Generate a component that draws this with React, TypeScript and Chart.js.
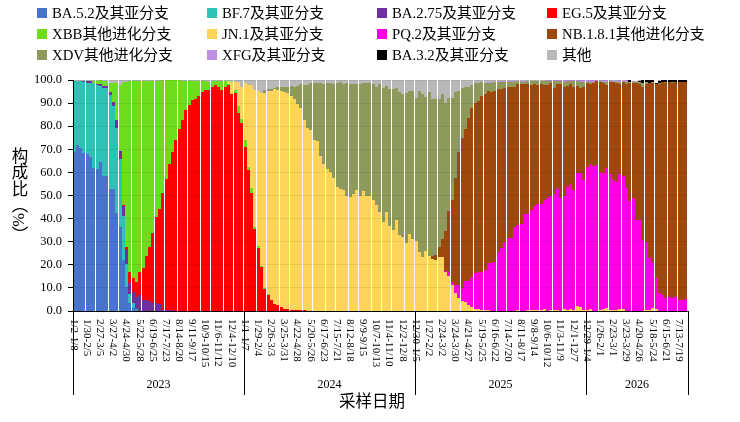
import React, { useEffect, useRef } from 'react';
import { Chart, Plugin, registerables } from 'chart.js';

Chart.register(...registerables);

const FONT = '"Liberation Serif", "Noto Sans CJK SC", serif';
const WEEK_COUNT = 187;

// one label every four weeks, first week of 2023 onwards
const tickLabels = [
  '1/2-1/8', '1/30-2/5', '2/27-3/5', '3/27-4/2', '4/24-4/30', '5/22-5/28', '6/19-6/25', '7/17-7/23', '8/14-8/20', '9/11-9/17', '10/9-10/15', '11/6-11/12', '12/4-12/10',
  '1/1-1/7', '1/29-2/4', '2/26-3/3', '3/25-3/31', '4/22-4/28', '5/20-5/26', '6/17-6/23', '7/15-7/21', '8/12-8/18', '9/9-9/15', '10/7-10/13', '11/4-11/10', '12/2-12/8',
  '12/30-1/5', '1/27-2/2', '2/24-3/2', '3/24-3/30', '4/21-4/27', '5/19-5/25', '6/16-6/22', '7/14-7/20', '8/11-8/17', '9/8-9/14', '10/6-10/12', '11/3-11/9', '12/1-12/7',
  '12/29-1/4', '1/26-2/1', '2/23-3/1', '3/23-3/29', '4/20-4/26', '5/18-5/24', '6/15-6/21', '7/13-7/19'
];
const years = ['2023', '2024', '2025', '2026'];
const yearStarts = [0, 52, 104, 156];
const yTicks = [0, 10, 20, 30, 40, 50, 60, 70, 80, 90, 100];

const ba52 = [68.7, 71.9, 70.4, 68.3, 68, 66.7, 61.9, 61.3, 64.5, 58.4, 58.4, 52.8, 52.8, 42.4, 36.4, 22, 10.5, 3.5, 1.2, 0.5, 0.1];
const bf7 = [30.7, 27.6, 29, 30.7, 30.8, 32.1, 36.6, 36.7, 33, 38.1, 38.1, 40.7, 36.1, 36.9, 29.6, 19.3, 9.8, 3.7, 2.3, 0.5, 0.1, 0.1];
const ba275 = [0, 0, 0, 0.5, 0.6, 0.6, 0.2, 0.4, 0.6, 0.8, 0.7, 1.2, 1.6, 3.2, 3.3, 4.2, 6.1, 4.8, 4.8, 5.2, 6.7, 4.7, 4.8, 4.3, 3.6, 3.6, 3.2, 0.6, 0.6, 0.4, 0.3, 0.2, 0.1, 0.1];
const eg5 = [
  0, 0, 0, 0, 0, 0, 0, 0, 0, 0, 0, 0, 0, 0, 0,
  0.4, 1.4, 4.7, 5.8, 6.2, 9.9, 13.8, 19, 23.5, 30.3, 37.1, 41, 50.4, 56.6, 63.2, 68.4, 73.8, 78.7, 82.6, 87, 89.2, 91.3, 91.8, 93, 94.7, 95.7, 95.7, 97, 97.8, 97, 95.7, 97, 97.8, 94, 94.5, 85.6, 81.5, 71.1, 61, 51.2, 35.5, 27.3, 19.2, 9.5, 6.9, 4.8, 3, 2.6, 1.8, 1, 1, 0.5, 0.4, 0.3, 0.3, 0.6, 0, 0.2
];
const xbb = [
  0, 0, 0, 0, 0, 0,
  0.8, 1.2, 1.7, 2.4, 2.2, 3.8, 8, 16, 28.5, 53.1, 71.2, 82.8, 85.5, 87.2, 82.9, 81.1, 75.9, 71.9, 65.8, 59, 55.5, 48.9, 42.7, 36.3, 31.2, 25.9, 21, 17, 12.7, 10.5, 8.4, 7.9, 6.7, 5, 3.7, 3.3, 2.5, 1.9, 2.6, 3.8, 2.5, 0.4, 0, 1.3, 3.2, 1.6, 2.9, 1.4, 1.9, 0.9, 0.7, 0.3, 0.3, 0.5
];
const jn1 = [
  0, 0, 0, 0, 0, 0, 0, 0, 0, 0, 0, 0, 0, 0, 0, 0, 0, 0, 0, 0, 0, 0, 0, 0,
  0, 0, 0, 0, 0, 0, 0, 0, 0, 0, 0, 0, 0, 0, 0, 0, 0, 0, 0, 0, 0, 0, 0,
  1.2, 5, 3.2, 10.2, 13.9, 24.7, 35.4, 44.7, 59.3, 67.2, 74.9, 84.6, 88, 90.4, 93, 93.1, 93.4, 94, 93.4, 92.4, 91.5, 89.3,
  87.7, 82, 79.2, 78.3, 73.9, 73.6, 67, 63.5, 61.3, 60.2, 57.6, 53.7, 52.7, 52.3, 50, 49.3, 50.5, 52.3, 49.8, 51.8,
  49.8, 50, 47.9, 45.7, 42.8, 38.5, 42.8, 36.7, 35, 39.6, 32.7, 32.1, 29.4, 33.3, 31, 30.5, 25.5, 23.4, 25.8, 23.6,
  22.5, 22.1, 23.5, 23.5, 17, 15.2, 11.3, 7.6, 5.5, 4.3, 3.8, 2.6, 1.9, 0.7, 0.8, 0.4, 0.5, 0.3, 0.1, 0.1,
  0, 0, 0, 0, 0, 0.2, 0.3, 0, 0, 0.3, 0.3, 0.3, 0.3, 0.3, 0.9, 0.1, 0.4, 0.4, 0.3, 0.2, 0.7, 0.3, 0.7, 0.4,
  2.2, 1.7, 0.4, 0.4, 0.9, 0.1, 0.1, 0.3, 1, 1.3, 0.4, 0.3, 0.4, 0.8, 0.8, 0.1, 0, 0.1, 0, 0.1, 0.1, 0.3, 0.3, 1.3, 1, 0.2
];
const pq2 = [
  0, 0, 0, 0, 0, 0, 0, 0, 0, 0, 0, 0, 0, 0, 0, 0, 0, 0, 0, 0, 0, 0, 0, 0, 0, 0, 0, 0, 0, 0,
  0, 0, 0, 0, 0, 0, 0, 0, 0, 0, 0, 0, 0, 0, 0, 0, 0, 0, 0, 0, 0, 0, 0, 0, 0, 0, 0, 0, 0, 0,
  0, 0, 0, 0, 0, 0, 0, 0, 0, 0, 0, 0, 0, 0, 0, 0, 0, 0, 0, 0, 0, 0, 0, 0, 0, 0, 0, 0, 0, 0,
  0, 0, 0, 0, 0, 0, 0, 0, 0, 0, 0, 0, 0, 0, 0, 0, 0, 0, 0, 0, 0, 0, 0,
  0.4, 1.6, 1.1, 3.7, 5.8, 5.8, 9.3, 10.4, 13, 15.9, 16.2, 16.6, 17.2, 20.3, 20.8, 20.9, 25.7, 27.1, 30, 31.5, 31.5, 36.3, 36.9, 37.7, 41.8, 41.5, 43.4, 45.3, 45.9, 45.9, 47.1, 48.7, 49.5, 50.3, 52.5, 48.8, 49.2, 53.5, 54.1, 52, 57.7, 58.2, 56.3, 62.1, 62.7, 62.7, 63.1, 59.7, 58.6, 60.5, 58.9, 56.4, 55.6, 58.4, 57.6, 53, 47.5, 48.7, 39.3, 39.3, 30.6, 29.4, 22.5, 19.4, 13.1, 7.4, 6.9, 5.5, 6.2, 5.8, 6.2, 4.8, 4.8, 5.2
];
const nb181 = [
  0, 0, 0, 0, 0, 0, 0, 0, 0, 0, 0, 0, 0, 0, 0, 0, 0, 0, 0, 0, 0, 0, 0, 0, 0, 0, 0, 0, 0, 0,
  0, 0, 0, 0, 0, 0, 0, 0, 0, 0, 0, 0, 0, 0, 0, 0, 0, 0, 0, 0, 0, 0, 0, 0, 0, 0, 0, 0, 0, 0,
  0, 0, 0, 0, 0, 0, 0, 0, 0, 0, 0, 0, 0, 0, 0, 0, 0, 0, 0, 0, 0, 0, 0, 0, 0, 0, 0, 0, 0, 0,
  0, 0, 0, 0, 0, 0, 0, 0, 0, 0, 0, 0, 0, 0, 0, 0, 0, 0, 0,
  1.3, 2, 4.2, 7.7, 17.2, 26.5, 35.6, 46.1, 57.4, 64.6, 65.7, 70.4, 73.1, 73.3, 73.9, 76.1, 76.2, 74.6, 74.1, 74.2, 70.4, 69, 66.7, 65.5, 65.6, 60.6, 60.9, 60.6, 56.3, 56.3, 54.1, 52.5, 51.6, 51.9, 49.8, 49, 48.7, 45.7, 45.3, 49.4, 47.2, 43.5, 43.6, 44.7, 37.5, 36.8, 40.4, 36.1, 34.7, 35.8, 36.2, 39.1, 39.1, 36, 39.8, 42.3, 42.7, 39.1, 40.6, 45.2, 51.4, 49.9, 59.6, 58.9, 66.4, 68.4, 75.8, 78.2, 84, 90.8, 92.2, 93.3, 92.8, 92.9, 92.9, 94.3, 94.2, 93.8
];
const xdv = [
  0, 0, 0, 0, 0, 0, 0, 0, 0, 0, 0, 0, 0, 0, 0, 0, 0, 0, 0, 0, 0, 0, 0, 0, 0, 0, 0, 0, 0,
  0, 0, 0, 0, 0, 0, 0, 0, 0, 0, 0, 0, 0, 0, 0, 0, 0, 0, 0, 0, 0, 0, 0, 0, 0, 0, 0, 0, 0,
  1.3, 0.8, 0.8, 0.6, 1.4, 1.8, 2, 2.6, 4.3, 5.2, 7.8, 10.4, 15.2, 18.6, 20.3, 24.9, 25.2, 31.6, 34.9, 37.4, 38.5, 40.8, 45, 46.3, 46.1, 48.7, 48.8, 47.9, 46.1, 48.6, 47, 49, 48.7, 50.2, 51.1, 55.3, 58.2, 54.7, 59.2, 61.1, 56.8, 62, 61.7, 65.1, 61.9, 64.2, 61.5, 69.7, 70.4, 67, 71.1,
  68, 67.7, 64.1, 62.7, 55.3, 48.7, 44.4, 37.3, 26.5, 22, 18.2, 13.7, 9.8, 8.7, 7.9, 5.9, 4.8, 3.7, 3.9, 3.8, 2.9, 3.2, 2.5, 2.2, 2.2, 2.2, 1.3, 1, 1.2, 1.3, 1.6, 1.3, 1.6, 1.3, 1.6, 1.7, 0.9, 3, 1.3, 1, 2.2, 2.1, 1, 2.3, 2, 2.6, 2.2, 0.6, 1, 0.6, 0.2, 0.3, 0.6, 1.2, 0.3, 0.3, 0.6, 1, 0.3, 1, 0.3, 0.5, 0.2, 0.9, 1.8, 0.9, 0.2, 0.2, 0.3, 0.3, 0.1, 0.3, 0.2, 0.4, 0.1, 0, 0.1, 0
];
const xfg = [
  0, 0, 0, 0, 0, 0, 0, 0, 0, 0, 0, 0, 0, 0, 0, 0, 0, 0, 0, 0, 0, 0, 0, 0, 0, 0, 0, 0, 0, 0,
  0, 0, 0, 0, 0, 0, 0, 0, 0, 0, 0, 0, 0, 0, 0, 0, 0, 0, 0, 0, 0, 0, 0, 0, 0, 0, 0, 0, 0, 0,
  0, 0, 0, 0, 0, 0, 0, 0, 0, 0, 0, 0, 0, 0, 0, 0, 0, 0, 0, 0, 0, 0, 0, 0, 0, 0, 0, 0, 0, 0,
  0, 0, 0, 0, 0, 0, 0, 0, 0, 0, 0, 0, 0, 0, 0, 0, 0, 0, 0, 0, 0, 0, 0, 0, 0, 0, 0, 0, 0, 0,
  0, 0, 0, 0, 0,
  0.2, 0.1, 0.1, 0.1, 0.6, 0.4, 0.4, 0.5, 0.4, 0.4, 0.3, 0.4, 0.4, 0.3, 0.3, 0.3, 0.3, 0.3, 0.3, 0.3, 0.3, 0.4, 0.4, 0.4, 0.5, 0.4, 0.4, 0.4, 0.4, 0.5, 0.5, 0.6, 0.5, 0.6, 0.3, 0.4, 0.5, 0.8, 0.4, 0.4, 0.4, 0.5, 0.4, 0.5, 0.1, 0.2, 0.2
];
const ba32 = [
  0, 0, 0, 0, 0, 0, 0, 0, 0, 0, 0, 0, 0, 0, 0, 0, 0, 0, 0, 0, 0, 0, 0, 0, 0, 0, 0, 0, 0, 0,
  0, 0, 0, 0, 0, 0, 0, 0, 0, 0, 0, 0, 0, 0, 0, 0, 0, 0, 0, 0, 0, 0, 0, 0, 0, 0, 0, 0, 0, 0,
  0, 0, 0, 0, 0, 0, 0, 0, 0, 0, 0, 0, 0, 0, 0, 0, 0, 0, 0, 0, 0, 0, 0, 0, 0, 0, 0, 0, 0, 0,
  0, 0, 0, 0, 0, 0, 0, 0, 0, 0, 0, 0, 0, 0, 0, 0, 0, 0, 0, 0, 0, 0, 0, 0, 0, 0, 0, 0, 0, 0,
  0, 0, 0, 0, 0, 0, 0, 0, 0, 0, 0, 0, 0, 0, 0, 0, 0, 0, 0, 0, 0, 0, 0, 0, 0, 0, 0, 0, 0, 0,
  0, 0, 0, 0, 0, 0, 0, 0, 0, 0, 0, 0, 0, 0, 0, 0, 0, 0, 0,
  0.5, 0, 0, 0.5, 1, 0.9, 1, 0.7, 0.3, 1, 0.6, 0.8, 0.7, 0.8, 0.7, 0.9, 0.8, 1
];
const other = [
  0.6, 0.5, 0.6, 0.5, 0.6, 0.6, 0.5, 0.4, 0.2, 0.3, 0.6, 1.5, 1.5, 1.5, 2.2, 1, 1, 0.5, 0.4, 0.4, 0.3, 0.3, 0.3, 0.3, 0.3, 0.3, 0.3, 0.1, 0.1, 0.1, 0.1, 0.1, 0.2, 0.3, 0.3, 0.3, 0.3, 0.3, 0.3, 0.3, 0.6, 1, 0.5, 0.3, 0.4, 0.5, 0.5, 0.6, 1, 1, 1, 3,
  1.3, 2.2, 2.2, 4.3, 4.8, 5.6, 4.3, 3.9, 4, 3.4, 2.9, 3, 3, 3, 2.8, 2.9, 2.6, 1.7, 2.2, 2.2, 1.2, 1.2, 1.2, 1.4, 1.6, 1.3, 1.3, 1.6, 1.3, 1, 1.6, 1.3, 1.9, 1.6, 1.6, 1.6, 1.2, 1.2, 1.3, 1.9, 3.2, 1.9, 3.3, 2.5, 4.1, 3.9, 3.6, 5.3, 6.2, 5.5, 4.8, 4.8,
  8, 4.8, 6.2, 7.2, 5.3, 8.2, 8.2, 8.2, 6.1, 10.1, 8, 7.6, 5.3, 4.8, 3.3, 3, 2.9, 2.2, 1.4, 1.2, 1, 1, 1, 1, 1, 0.4, 0.3, 0.4, 0.3, 0.3, 0.3, 0.3, 0.3, 0.3, 0.3, 0.3, 0.3, 0.3, 0.3, 0.2, 0.2, 0.2, 0.2, 0.2, 0.2, 0.2, 0.2, 0.2, 0.2, 0.2, 0.2,
  0.2, 0.2, 0.1, 0.2, 0.2, 0.2, 0.2, 0.3, 0.3, 0.2, 0.3, 0.2, 0.2, 0.6, 0.6, 0.3, 0.1, 0.1, 0.2, 0.2, 1.2, 0.3, 0.2, 0.1, 0.1, 0.1, 0.1, 0.1, 0.1, 0, 0.1, 0
];

const seriesNames = ['BA.5.2及其亚分支', 'BF.7及其亚分支', 'BA.2.75及其亚分支', 'EG.5及其亚分支', 'XBB其他进化分支', 'JN.1及其亚分支', 'PQ.2及其亚分支', 'NB.1.8.1其他进化分支', 'XDV其他进化分支', 'XFG及其亚分支', 'BA.3.2及其亚分支', '其他'];
const seriesValues = [ba52, bf7, ba275, eg5, xbb, jn1, pq2, nb181, xdv, xfg, ba32, other];
const seriesColors = ['#4874CB', '#2EC2B6', '#7030A0', '#FF0000', '#6EDD1E', '#FFD45A', '#FF00E6', '#9E480E', '#8E9A5C', '#BF8FE4', '#000000', '#B8B8B8'];

const categories = Array.from({ length: WEEK_COUNT }, (_, i) => (i % 4 === 0 ? tickLabels[i / 4] ?? '' : ''));

// the original was rasterised on whole pixels, which leaves the thin white seams between bars
const snapBars: Plugin<'bar'> = {
  id: 'snapBars',
  beforeDatasetsDraw(chart) {
    chart.data.datasets.forEach((_, d) => {
      chart.getDatasetMeta(d).data.forEach((bar: any) => {
        const w = Math.floor(bar.width);
        const left = Math.floor(bar.x - bar.width / 2 + 0.001);
        bar.x = left + w / 2;
        bar.width = w;
        bar.y = Math.round(bar.y);
        bar.base = Math.round(bar.base);
      });
    });
  }
};

// week labels read top to bottom, years sit under them between the black separators
const weekAxis: Plugin<'bar'> = {
  id: 'weekAxis',
  afterDraw(chart) {
    const { ctx, scales, chartArea } = chart;
    const x = scales.x;
    const band = chartArea.width / WEEK_COUNT;
    const bottom = chartArea.bottom;

    ctx.save();
    ctx.fillStyle = '#000';
    ctx.textBaseline = 'middle';
    ctx.font = `11px ${FONT}`;
    ctx.textAlign = 'left';
    tickLabels.forEach((label, i) => {
      ctx.save();
      ctx.translate(x.getPixelForValue(i * 4) - 1, bottom + 8);
      ctx.rotate(Math.PI / 2);
      ctx.fillText(label, 0, 0);
      ctx.restore();
    });

    ctx.strokeStyle = '#000';
    ctx.lineWidth = 1;
    const edges = [...yearStarts, WEEK_COUNT];
    edges.forEach((week) => {
      const px = Math.round(x.getPixelForValue(week) - band / 2) + 0.5;
      ctx.beginPath();
      ctx.moveTo(px, bottom);
      ctx.lineTo(px, bottom + 84);
      ctx.stroke();
    });

    ctx.font = `12px ${FONT}`;
    ctx.textAlign = 'center';
    years.forEach((year, i) => {
      const from = x.getPixelForValue(edges[i]) - band / 2;
      const to = x.getPixelForValue(edges[i + 1]) - band / 2;
      ctx.fillText(year, (from + to) / 2, bottom + 73.5);
    });
    ctx.restore();
  }
};

const App: React.FC = () => {
  const canvasRef = useRef<HTMLCanvasElement>(null);

  useEffect(() => {
    if (!canvasRef.current) return;
    const chart = new Chart(canvasRef.current, {
      type: 'bar',
      data: {
        labels: categories,
        datasets: seriesNames.map((name, i) => ({
          label: name,
          data: seriesValues[i],
          backgroundColor: seriesColors[i],
          barPercentage: 1,
          categoryPercentage: 1,
          inflateAmount: 0,
          borderWidth: 0
        }))
      },
      options: {
        responsive: false,
        animation: false,
        devicePixelRatio: 1,
        layout: { padding: { top: 80, right: 52 } },
        plugins: { legend: { display: false }, tooltip: { enabled: false } },
        scales: {
          x: {
            stacked: true,
            grid: { color: 'transparent', drawTicks: false },
            border: { color: '#000', width: 1 },
            ticks: { display: false },
            afterFit: (scale) => { scale.height = 111; }
          },
          y: {
            stacked: true,
            min: 0,
            max: 100,
            afterBuildTicks: (scale) => { scale.ticks = yTicks.map((value) => ({ value })); },
            grid: { color: 'rgba(0,0,0,0.07)', tickColor: '#000', tickLength: 5, z: 1 },
            border: { color: '#000', width: 1, z: 1 },
            ticks: {
              color: '#000',
              padding: 6,
              font: { family: FONT, size: 12.5 },
              callback: (value) => Number(value).toFixed(1)
            },
            afterFit: (scale) => { scale.width = 73; }
          }
        }
      },
      plugins: [snapBars, weekAxis]
    });

    return () => {
      chart.destroy();
    };
  }, []);

  return (
    <div style={{ position: 'fixed', left: 0, top: 0, width: 740, height: 422, background: '#fff', fontFamily: FONT, color: '#000' }}>
      <canvas ref={canvasRef} width={740} height={422} style={{ display: 'block' }} />
      {seriesNames.map((name, i) => (
        <div
          key={name}
          style={{ position: 'absolute', left: 37 + (i % 4) * 170, top: 3 + Math.floor(i / 4) * 21, height: 21, lineHeight: '21px', fontSize: 14.8, whiteSpace: 'nowrap' }}
        >
          <span style={{ position: 'absolute', left: 0, top: 5, width: 10, height: 10, background: seriesColors[i] }} />
          <span style={{ marginLeft: 15 }}>{name}</span>
        </div>
      ))}
      <div style={{ position: 'absolute', left: 6, top: 147, writingMode: 'vertical-rl', fontSize: 16.5, lineHeight: '24px', whiteSpace: 'nowrap' }}>构成比（%）</div>
      <div style={{ position: 'absolute', left: 272, width: 200, top: 392, textAlign: 'center', fontSize: 16.5, lineHeight: '20px' }}>采样日期</div>
    </div>
  );
};

export default App;
